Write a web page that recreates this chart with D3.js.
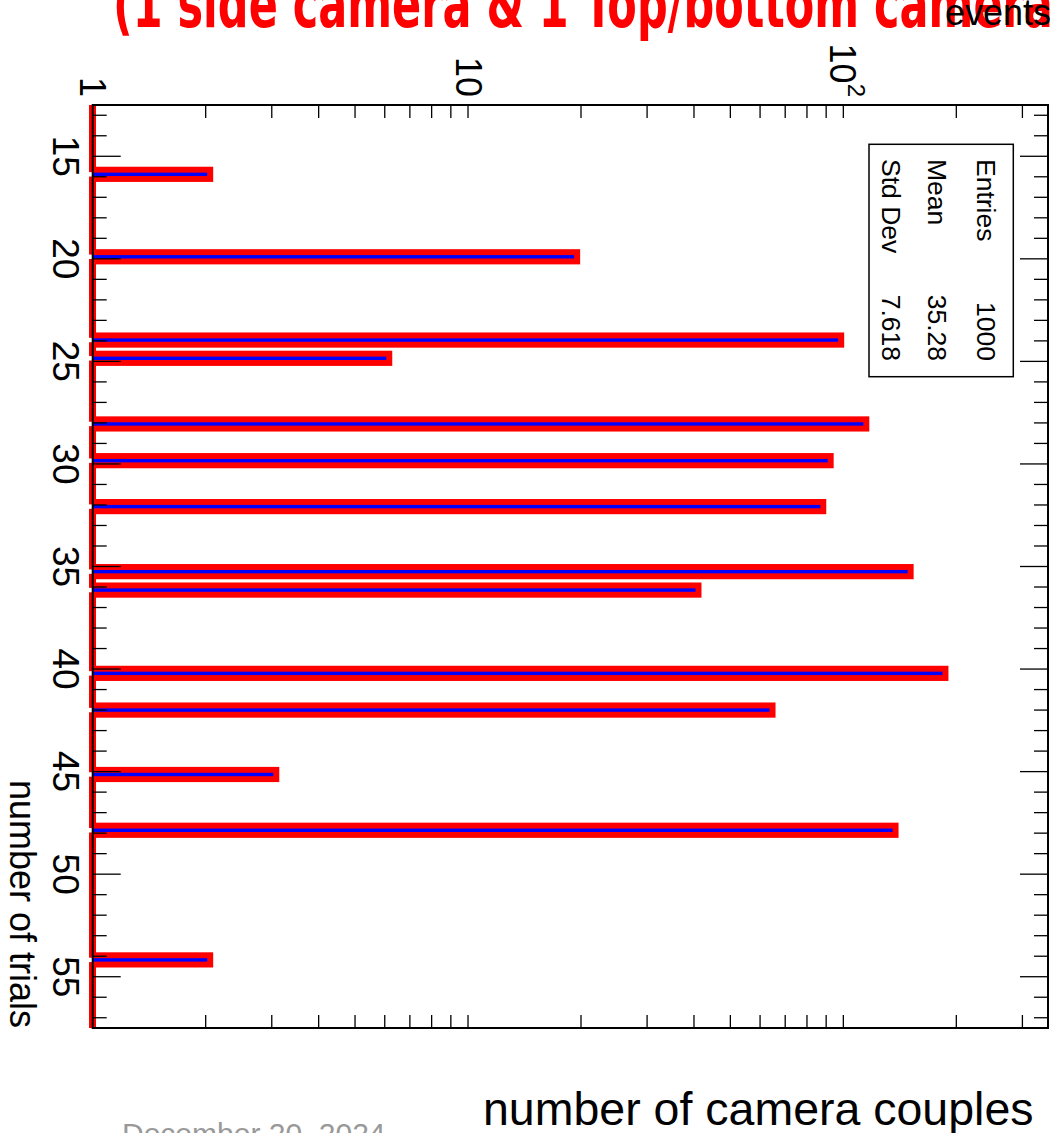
<!DOCTYPE html>
<html>
<head>
<meta charset="utf-8">
<script src="https://cdn.jsdelivr.net/npm/d3@7"></script>
<style>
  body { margin: 0; background: #fff; }
  svg { display: block; }
</style>
</head>
<body>
<svg id="chart" width="1051" height="1133"></svg>
<script>
// ---------------- data ----------------
const trials = [15.88, 19.9, 23.96, 24.85, 28.05, 29.84, 32.08, 35.25, 36.15, 40.21, 42.0, 45.14, 47.86, 54.18];
const events = [2, 19, 96, 6, 112, 90, 86, 147, 40, 182, 63, 3, 134, 2];
const trialDomain = [12.5, 57.5];
const eventDomain = [1, 351];
const trialMajorTicks = [15, 20, 25, 30, 35, 40, 45, 50, 55];
const eventLabelTicks = [1, 10, 100];
const statNames = ["Entries", "Mean", "Std Dev"];
const statValues = ["1000", "35.28", "7.618"];
const titleText = "(1 side camera & 1 Top/bottom camera)";
const xTitle = "number of trials";
const yTitle = "events";
const slideCaption = "number of camera couples";
const slideDate = "December 20, 2024";

// ---------------- layout ----------------
const frameLeft = 92.7, frameRight = 1048, frameTop = 105, frameBottom = 1028;
const W = frameBottom - frameTop;   // trials axis length (drawn vertically)
const H = frameRight - frameLeft;   // log axis length (drawn horizontally)
const font = "'Liberation Sans', Arial, Helvetica, sans-serif";

const svg = d3.select("#chart");

// Title (clipped at top of slide)
svg.append("text")
  .attr("transform", "translate(113,27) scale(1,1.55)")
  .attr("font-family", "'Comic Sans MS', 'DejaVu Sans', sans-serif")
  .attr("font-weight", "bold")
  .attr("font-size", 43)
  .attr("fill", "#ff0000")
  .text(titleText);

// Rotated plot group: original ROOT plot rotated 90deg clockwise
const g = svg.append("g")
  .attr("transform", `translate(${frameRight},${frameTop}) rotate(90)`);

const xs = d3.scaleLinear().domain(trialDomain).range([0, W]);
const ys = d3.scaleLog().domain(eventDomain).range([H, 0]);

// red baseline band (outline of histogram at minimum)
g.append("rect")
  .attr("x", 0).attr("y", H - 3.3).attr("width", W).attr("height", 7)
  .attr("fill", "#ff0000");
// small white notches in the band at each bin
g.selectAll("rect.notch").data(trials).join("rect")
  .attr("class", "notch")
  .attr("x", d => xs(d) - 2.2).attr("y", H).attr("width", 4.4).attr("height", 4)
  .attr("fill", "#fff");

const bins = trials.map((t, i) => ({ t, v: events[i] }));

// red thick bars
g.selectAll("rect.red").data(bins).join("rect")
  .attr("class", "red")
  .attr("x", d => xs(d.t) - 7.6)
  .attr("width", 15.2)
  .attr("y", d => ys(d.v) - 7.5)
  .attr("height", d => H - ys(d.v) + 7.5)
  .attr("fill", "#ff0000");

// blue thin lines
g.selectAll("rect.blue").data(bins).join("rect")
  .attr("class", "blue")
  .attr("x", d => xs(d.t) - 1.7)
  .attr("width", 3.4)
  .attr("y", d => ys(d.v) - 1.5)
  .attr("height", d => H - ys(d.v) + 1.5)
  .attr("fill", "#0000ff");

// frame
g.append("rect")
  .attr("x", 0).attr("y", 0).attr("width", W).attr("height", H)
  .attr("fill", "none").attr("stroke", "#000").attr("stroke-width", 2);

// trial axis ticks (bottom & top of original plot)
const minorTrials = d3.range(Math.ceil(trialDomain[0]), Math.floor(trialDomain[1]) + 1);
minorTrials.forEach(t => {
  const major = trialMajorTicks.includes(t);
  const len = major ? 28 : 14;
  g.append("line").attr("x1", xs(t)).attr("x2", xs(t)).attr("y1", H).attr("y2", H - len)
    .attr("stroke", "#000").attr("stroke-width", 1.3);
  g.append("line").attr("x1", xs(t)).attr("x2", xs(t)).attr("y1", 0).attr("y2", len)
    .attr("stroke", "#000").attr("stroke-width", 1.3);
});

// log axis ticks (left & right of original plot)
ys.ticks().filter(v => v > eventDomain[0] && v < eventDomain[1]).forEach(v => {
  g.append("line").attr("x1", 0).attr("x2", 13).attr("y1", ys(v)).attr("y2", ys(v))
    .attr("stroke", "#000").attr("stroke-width", 1.3);
  g.append("line").attr("x1", W).attr("x2", W - 13).attr("y1", ys(v)).attr("y2", ys(v))
    .attr("stroke", "#000").attr("stroke-width", 1.3);
});

// trial tick labels
g.selectAll("text.tl").data(trialMajorTicks).join("text")
  .attr("class", "tl")
  .attr("x", d => xs(d)).attr("y", H + 40)
  .attr("text-anchor", "middle")
  .attr("font-family", font).attr("font-size", 37)
  .text(d => d);

// log tick labels
eventLabelTicks.forEach(v => {
  const e = Math.round(Math.log10(v));
  const t = g.append("text")
    .attr("x", -8).attr("y", ys(v))
    .attr("text-anchor", "end")
    .attr("dominant-baseline", "central")
    .attr("font-family", font).attr("font-size", 36);
  if (e === 0) t.text("1");
  else if (e === 1) t.text("10");
  else {
    t.append("tspan").text("10");
    t.append("tspan").attr("dy", -14).attr("font-size", 24).text(String(e));
  }
});

// x axis title
g.append("text")
  .attr("x", W).attr("y", H + 83)
  .attr("text-anchor", "end")
  .attr("font-family", font).attr("font-size", 36)
  .text(xTitle);

// stats box
const box = g.append("g");
box.append("rect")
  .attr("x", 39.3).attr("y", 34.7).attr("width", 232.4).attr("height", 144.3)
  .attr("fill", "#fff").attr("stroke", "#000").attr("stroke-width", 1.5);
const rowBase = [71.3, 119.7, 166.3];
statNames.forEach((n, i) => {
  box.append("text").attr("x", 54).attr("y", rowBase[i])
    .attr("font-family", font).attr("font-size", 26.5).text(n);
  box.append("text").attr("x", 256).attr("y", rowBase[i])
    .attr("text-anchor", "end")
    .attr("font-family", font).attr("font-size", 26.5).text(statValues[i]);
});

// y axis title (upright after rotation)
svg.append("text")
  .attr("x", 1051).attr("y", 25)
  .attr("text-anchor", "end")
  .attr("font-family", font).attr("font-size", 36)
  .text(yTitle);

// slide caption
svg.append("text")
  .attr("x", 483).attr("y", 1125)
  .attr("font-family", font).attr("font-size", 46.5)
  .text(slideCaption);

// slide date
svg.append("text")
  .attr("x", 122).attr("y", 1144)
  .attr("font-family", font).attr("font-size", 30)
  .attr("fill", "#999")
  .text(slideDate);
</script>
</body>
</html>
